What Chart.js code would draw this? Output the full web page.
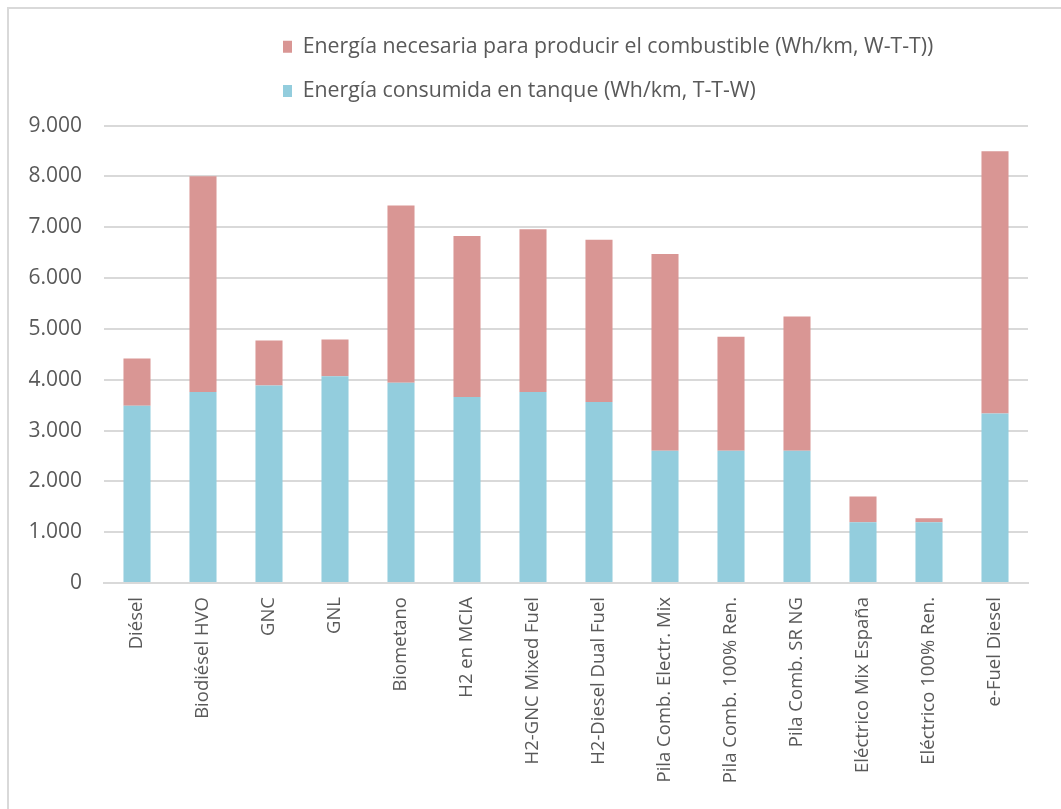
<!DOCTYPE html>
<html lang="es">
<head>
<meta charset="utf-8">
<title>Energía por tipo de combustible</title>
<script src="https://cdn.jsdelivr.net/npm/chart.js@4.4.1/dist/chart.umd.min.js"></script>
<style>
  html, body { margin: 0; padding: 0; background: #ffffff; }
  #wrap { position: relative; width: 1061px; height: 809px; overflow: hidden; }
  #frame { position: absolute; left: 7px; top: 7px; width: 1100px; height: 900px;
           border-left: 2.5px solid #d9d9d9; border-top: 2.5px solid #d9d9d9; box-sizing: border-box; }
  canvas { position: absolute; left: 0; top: 0; }
</style>
</head>
<body>
<div id="wrap">
  <div id="frame"></div>
  <canvas id="chart" width="1061" height="809"></canvas>
</div>
<script>
// Categorías (tipo de combustible / tecnología)
const categories = [
  'Diésel', 'Biodiésel HVO', 'GNC', 'GNL', 'Biometano', 'H2 en MCIA',
  'H2-GNC Mixed Fuel', 'H2-Diesel Dual Fuel', 'Pila Comb. Electr. Mix',
  'Pila Comb. 100% Ren.', 'Pila Comb. SR NG', 'Eléctrico Mix España',
  'Eléctrico 100% Ren.', 'e-Fuel Diesel'
];

// Energía consumida en tanque (Wh/km, T-T-W)
const tankToWheel = [3490, 3760, 3885, 4070, 3940, 3660, 3760, 3560, 2600, 2600, 2600, 1195, 1195, 3335];

// Energía necesaria para producir el combustible (Wh/km, W-T-T)
const wellToTank = [925, 4245, 885, 720, 3490, 3170, 3200, 3195, 3875, 2245, 2645, 505, 80, 5160];

const seriesNames = [
  'Energía consumida en tanque (Wh/km, T-T-W)',
  'Energía necesaria para producir el combustible (Wh/km, W-T-T))'
];

const yTicks = [0, 1000, 2000, 3000, 4000, 5000, 6000, 7000, 8000, 9000];

const FONT = '"Open Sans", "Noto Sans", "DejaVu Sans", sans-serif';
const TEXT = '#595959';

const fmt = v => v === 0 ? '0' : String(v).replace(/\B(?=(\d{3})+(?!\d))/g, '.');

// Leyenda: ambas líneas alineadas a la izquierda en la misma columna,
// con un margen extra entre la leyenda y el área de trazado
const legendTweak = {
  id: 'legendTweak',
  beforeLayout(chart) {
    const lg = chart.legend;
    if (lg && !lg._tweaked) {
      const fit = lg.fit;
      lg.fit = function () { fit.call(this); this.height += 14; };
      lg._tweaked = true;
    }
  },
  afterLayout(chart) {
    const lg = chart.legend;
    if (lg) { lg.left = 260; }
  }
};

new Chart(document.getElementById('chart'), {
  type: 'bar',
  data: {
    labels: categories,
    datasets: [
      { label: seriesNames[0], data: tankToWheel, backgroundColor: '#93CDDD', borderWidth: 0 },
      { label: seriesNames[1], data: wellToTank, backgroundColor: '#D99694', borderWidth: 0 }
    ]
  },
  options: {
    responsive: false,
    animation: false,
    layout: { padding: { left: 10, right: 33, top: 13, bottom: 0 } },
    datasets: { bar: { categoryPercentage: 1, barPercentage: 0.41 } },
    plugins: {
      tooltip: { enabled: false },
      legend: {
        position: 'top',
        align: 'start',
        reverse: true,
        labels: {
          font: { family: FONT, size: 21.3 },
          color: TEXT,
          boxWidth: 9,
          boxHeight: 12,
          padding: 23
        }
      }
    },
    scales: {
      x: {
        stacked: true,
        grid: { display: false, drawTicks: false },
        border: { display: true, color: '#d9d9d9', width: 2 },
        ticks: {
          font: { family: FONT, size: 18.5 },
          color: TEXT,
          maxRotation: 90,
          minRotation: 90,
          padding: 14,
          autoSkip: false
        },
        afterFit(scale) { scale.height = 226; }
      },
      y: {
        stacked: true,
        min: 0,
        max: 9000,
        afterBuildTicks(scale) { scale.ticks = yTicks.map(v => ({ value: v })); },
        grid: { color: '#d9d9d9', lineWidth: 2, drawTicks: false },
        border: { display: false },
        ticks: {
          font: { family: FONT, size: 21 },
          color: TEXT,
          padding: 22,
          callback: v => fmt(v)
        },
        afterFit(scale) { scale.width = 94; }
      }
    }
  },
  plugins: [legendTweak]
});
</script>
</body>
</html>
